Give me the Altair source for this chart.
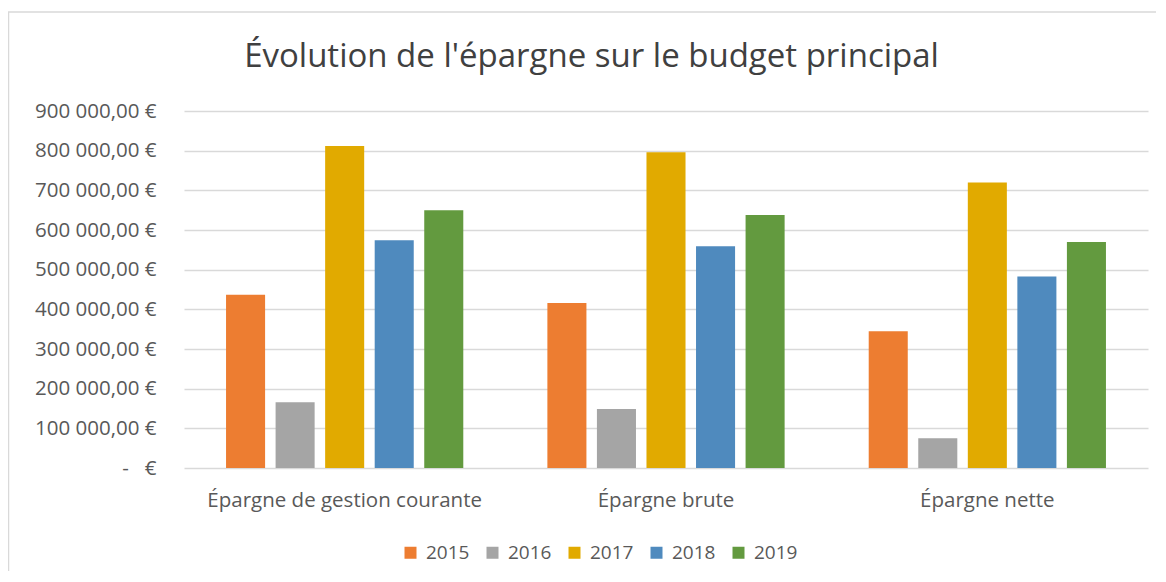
import altair as alt
import pandas as pd

categories = ["Épargne de gestion courante", "Épargne brute", "Épargne nette"]
years = ["2015", "2016", "2017", "2018", "2019"]
v2015 = [437000, 416000, 345000]
v2016 = [166000, 149000, 75000]
v2017 = [812000, 796000, 720000]
v2018 = [574000, 559000, 483000]
v2019 = [650000, 638000, 570000]
colors = ["#ED7D31", "#A5A5A5", "#E1AA00", "#4F8ABE", "#639A3F"]
y_ticks = [0, 100000, 200000, 300000, 400000, 500000, 600000, 700000, 800000, 900000]

series = [v2015, v2016, v2017, v2018, v2019]
rows = []
for yr, vals in zip(years, series):
    for cat, v in zip(categories, vals):
        rows.append({"categorie": cat, "annee": yr, "valeur": v})
df = pd.DataFrame(rows)

FONT = "Open Sans"
TXT = "#595959"
W, H = 964, 357

bars = alt.Chart(df).mark_bar().encode(
    x=alt.X("categorie:N", sort=categories,
            scale=alt.Scale(paddingInner=0.229, paddingOuter=0.1145),
            axis=alt.Axis(title=None, labelAngle=0, ticks=False, domain=False,
                          labelFont=FONT, labelFontSize=20.5, labelColor=TXT,
                          labelPadding=22, labelLimit=500, grid=False)),
    xOffset=alt.XOffset("annee:N", sort=years,
                        scale=alt.Scale(paddingInner=0.212, paddingOuter=0.106)),
    y=alt.Y("valeur:Q", scale=alt.Scale(domain=[0, 900000], nice=False),
            axis=alt.Axis(title=None, values=y_ticks, domain=False, ticks=False,
                          labelFont=FONT, labelFontSize=20.5, labelColor=TXT,
                          labelPadding=28, gridColor="#D9D9D9", gridWidth=1.3,
                          labelExpr="datum.value == 0 ? '-\u00a0\u00a0\u00a0€' : format(datum.value / 1000, 'd') + '\u00a0000,00\u00a0€'")),
    color=alt.Color("annee:N", sort=years,
                    scale=alt.Scale(domain=years, range=colors),
                    legend=alt.Legend(orient="none", legendX=217, legendY=432,
                                      direction="horizontal", title=None,
                                      symbolType="square", symbolSize=144,
                                      symbolStrokeWidth=0, labelFont=FONT,
                                      labelFontSize=19, labelColor=TXT,
                                      labelOffset=6, columnPadding=13, padding=0)),
)

frame = alt.Chart(pd.DataFrame({"a": [0]})).mark_rect(
    fill="transparent", stroke="#D9D9D9", strokeWidth=1.5
).encode(
    x=alt.value(-175.5), x2=alt.value(W + 60),
    y=alt.value(-99), y2=alt.value(H + 200),
)

chart = alt.layer(frame, bars).properties(
    width=W, height=H,
    title=alt.TitleParams(
        "Évolution de l'épargne sur le budget principal",
        font=FONT, fontSize=33, fontWeight="normal", color="#404040",
        anchor="middle", dx=-74.5, offset=-63,
    ),
    autosize=alt.AutoSizeParams(type="none"),
    padding={"left": 176, "top": 103, "right": 8, "bottom": 103},
).configure_view(stroke=None)

chart.save("out.html", embed_options={"renderer": "svg", "actions": False})
